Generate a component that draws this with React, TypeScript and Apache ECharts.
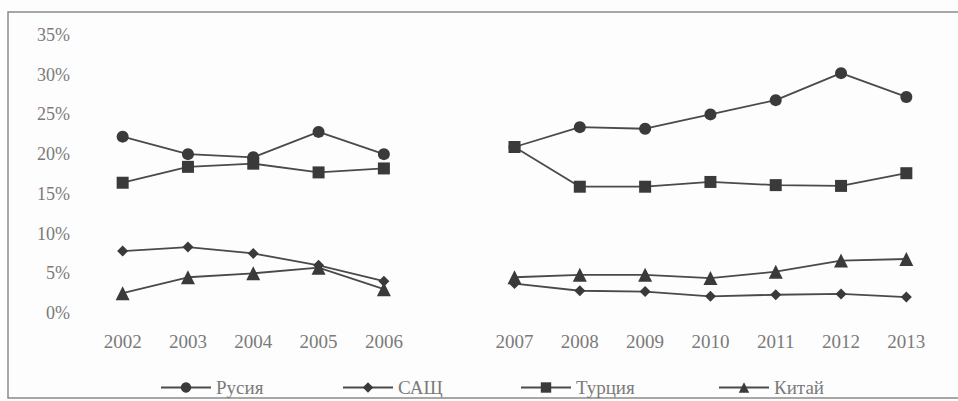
import React, { useEffect, useRef } from "react";
import * as echarts from "echarts";

const categories = ["2002", "2003", "2004", "2005", "2006", "", "2007", "2008", "2009", "2010", "2011", "2012", "2013"];
const russia = [22.2, 20.0, 19.6, 22.8, 20.0, null, 20.9, 23.4, 23.2, 25.0, 26.8, 30.2, 27.2];
const usa = [7.8, 8.3, 7.5, 6.0, 4.0, null, 3.7, 2.8, 2.7, 2.1, 2.3, 2.4, 2.0];
const turkey = [16.4, 18.4, 18.8, 17.7, 18.2, null, 20.9, 15.9, 15.9, 16.5, 16.1, 16.0, 17.6];
const china = [2.5, 4.5, 5.0, 5.7, 3.0, null, 4.5, 4.8, 4.8, 4.4, 5.2, 6.6, 6.8];
const seriesNames = ["Русия", "САЩ", "Турция", "Китай"];

export default function App() {
  const ref = useRef<HTMLDivElement>(null);
  useEffect(() => {
    if (!ref.current) return;
    const chart = echarts.init(ref.current, null, { renderer: "svg" });
    const font = "'Liberation Serif', 'Times New Roman', serif";
    const lineColor = "#4a4a4a";
    const mk = (name: string, data: (number | null)[], symbol: string, size: number) => ({
      name,
      type: "line",
      data,
      symbol,
      symbolSize: size,
      connectNulls: false,
      lineStyle: { color: lineColor, width: 1.8 },
      itemStyle: { color: "#3a3a3a" },
    });
    const legendPos = [155, 337, 515, 713];
    chart.setOption({
      animation: false,
      backgroundColor: "#fdfdfd",
      grid: { left: 90, right: 19, top: 35, bottom: 88 },
      xAxis: {
        type: "category",
        data: categories,
        boundaryGap: true,
        axisLine: { show: false },
        axisTick: { show: false },
        axisLabel: { color: "#7a7a7a", fontFamily: font, fontSize: 19, margin: 19, interval: 0 },
      },
      yAxis: {
        type: "value",
        min: 0,
        max: 35,
        interval: 5,
        splitLine: { show: false },
        axisLine: { show: false },
        axisTick: { show: false },
        axisLabel: { color: "#7a7a7a", fontFamily: font, fontSize: 18, margin: 20, formatter: "{value}%" },
      },
      legend: seriesNames.map((n, i) => ({
        data: [n],
        left: legendPos[i],
        top: 373,
        itemWidth: 50,
        itemHeight: 13,
        itemGap: 0,
        textStyle: { color: "#7a7a7a", fontFamily: font, fontSize: 19 },
      })),
      graphic: [
        {
          type: "rect",
          shape: { x: 8, y: 12, width: 960, height: 386 },
          style: { fill: "none", stroke: "#8a8a8a", lineWidth: 1.5 },
          silent: true,
        },
      ],
      series: [
        mk(seriesNames[0], russia, "circle", 12),
        mk(seriesNames[1], usa, "diamond", 11),
        mk(seriesNames[2], turkey, "rect", 12),
        mk(seriesNames[3], china, "triangle", 14),
      ],
    });
    return () => chart.dispose();
  }, []);
  return <div ref={ref} style={{ position: "fixed", left: 0, top: 0, width: 958, height: 401 }} />;
}
